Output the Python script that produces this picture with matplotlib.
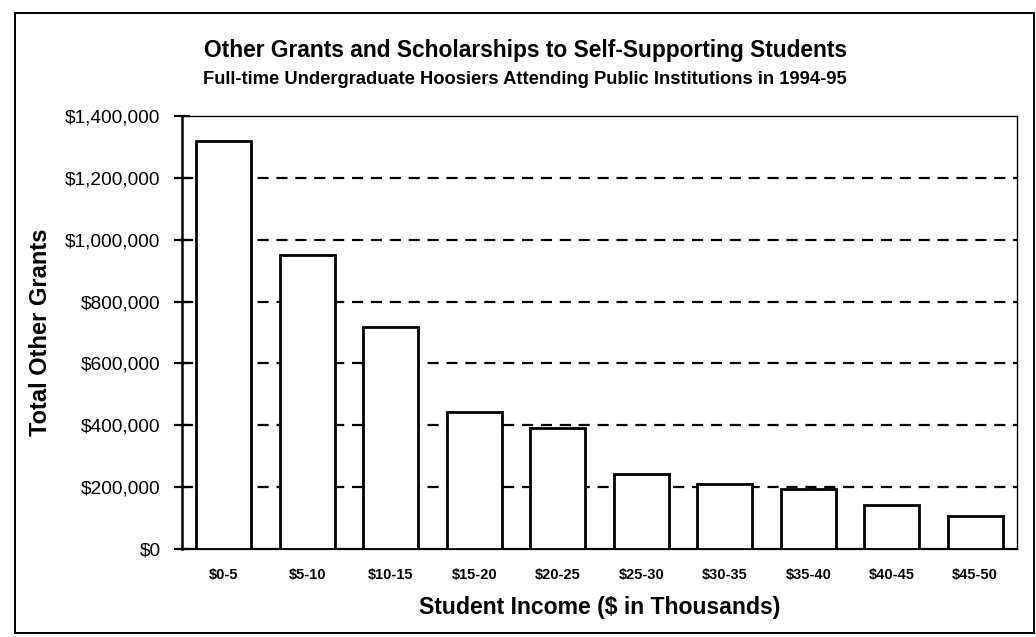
import matplotlib
matplotlib.use("Agg")
import matplotlib.pyplot as plt
from matplotlib.patches import Rectangle
from matplotlib.ticker import FuncFormatter

plt.rcParams['font.family'] = ['Liberation Sans', 'DejaVu Sans']

categories = ["$0-5", "$5-10", "$10-15", "$15-20", "$20-25",
              "$25-30", "$30-35", "$35-40", "$40-45", "$45-50"]
grants = [1320000, 950000, 718000, 443000, 392000,
          242000, 209000, 194000, 143000, 107000]
y_ticks = [0, 200000, 400000, 600000, 800000, 1000000, 1200000, 1400000]

W, H = 1036, 637
fig = plt.figure(figsize=(W / 100, H / 100), dpi=100)
fig.patch.set_facecolor("white")

# outer chart border
fig.add_artist(Rectangle((15 / W, 1 - 633 / H), (1034 - 15) / W, (633 - 13) / H,
                         transform=fig.transFigure, fill=False,
                         edgecolor="black", linewidth=1.4))

ax = fig.add_axes([182 / W, 1 - 549 / H, (1017 - 182) / W, (549 - 116) / H])

x = list(range(len(categories)))
ax.bar(x, grants, width=0.66, color="white", edgecolor="black",
       linewidth=2.0, zorder=3)

ax.set_xlim(-0.5, len(categories) - 0.5)
ax.set_ylim(0, 1400000)
ax.set_yticks(y_ticks)
ax.yaxis.set_major_formatter(FuncFormatter(lambda v, p: "${:,.0f}".format(v)))

for v in y_ticks[1:-1]:
    ax.axhline(v, color="black", linewidth=1.6, linestyle=(0, (5, 3.5)), zorder=1)

ax.set_xticks(x)
ax.set_xticklabels(categories, fontsize=10.5, fontweight="bold")
ax.tick_params(axis="x", length=0, pad=14)
ax.tick_params(axis="y", direction="inout", length=12, width=1.6,
               labelsize=13.8, pad=9.5)

for side in ("top", "right"):
    ax.spines[side].set_linewidth(1.0)
ax.spines["left"].set_linewidth(1.8)
ax.spines["bottom"].set_linewidth(1.6)

ax.set_ylabel("Total Other Grants", fontsize=17, fontweight="bold", labelpad=9)
ax.set_xlabel("Student Income ($ in Thousands)", fontsize=16.6, fontweight="bold",
              labelpad=10)

fig.text(525 / W, 1 - 51 / H,
         "Other Grants and Scholarships to Self-Supporting Students",
         ha="center", va="center", fontsize=16.4, fontweight="bold")
fig.text(525 / W, 1 - 80 / H,
         "Full-time Undergraduate Hoosiers Attending Public Institutions in 1994-95",
         ha="center", va="center", fontsize=13.2, fontweight="bold")

fig.savefig("out.png", dpi=100, facecolor="white")
